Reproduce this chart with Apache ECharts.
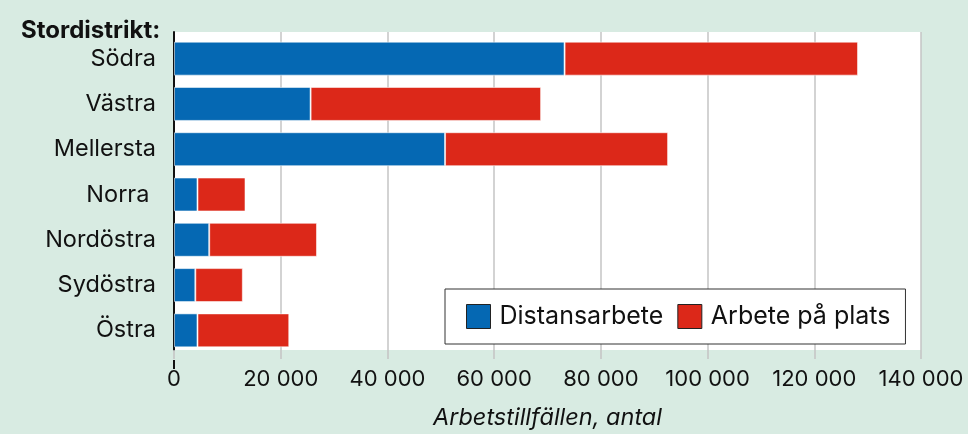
<!DOCTYPE html>
<html><head><meta charset="utf-8">
<script src="https://cdn.jsdelivr.net/npm/echarts@6/dist/echarts.min.js"></script>
<style>html,body{margin:0;padding:0;background:#d8ebe2}#c{width:968px;height:434px}</style>
</head><body><div id="c"></div>
<script>
var categories = ['Södra', 'Västra', 'Mellersta', 'Norra ', 'Nordöstra', 'Sydöstra', 'Östra'];
var distansarbete = [73200, 25600, 50800, 4400, 6600, 4000, 4400];
var arbetePaPlats = [55000, 43200, 41800, 9000, 20200, 8900, 17200];
var xTicks = [0, 20000, 40000, 60000, 80000, 100000, 120000, 140000];
var seriesNames = ['Distansarbete', 'Arbete på plats'];

var FONT = 'Inter, "Noto Sans", sans-serif';
var chart = echarts.init(document.getElementById('c'), null, {renderer: 'canvas'});
function fmt(v){ return String(v).replace(/\B(?=(\d{3})+(?!\d))/g, ' '); }
chart.setOption({
  backgroundColor: '#d8ebe2',
  animation: false,
  textStyle: {fontFamily: FONT},
  title: {text: 'Stordistrikt:', left: 16, top: 14, textStyle: {fontFamily: FONT, fontSize: 24, fontWeight: 'bold', color: '#111'}},
  grid: [
    {left: 174, right: 47, top: 36, bottom: 81},
    {left: 174, right: 47, top: 32, bottom: 74, show: true, backgroundColor: '#ffffff', borderWidth: 0, z: 0}
  ],
  legend: {
    data: seriesNames, left: 445, top: 289, orient: 'horizontal',
    backgroundColor: '#ffffff', borderColor: '#333', borderWidth: 1,
    padding: [15, 15, 15, 21], itemWidth: 24, itemHeight: 24, itemGap: 14, icon: 'rect',
    itemStyle: {borderColor: '#222', borderWidth: 1},
    textStyle: {fontFamily: FONT, fontSize: 25, color: '#111', padding: [0, 0, 0, 4]}
  },
  xAxis: [
    {gridIndex: 0, type: 'value', min: 0, max: 140000, show: false},
    {gridIndex: 1, type: 'value', min: 0, max: 140000, interval: 20000,
      axisLine: {show: false},
      axisTick: {show: true, length: 9, lineStyle: {color: '#c4c4c4', width: 1.5}},
      splitLine: {show: true, lineStyle: {color: '#c4c4c4', width: 1.5}},
      axisLabel: {fontFamily: FONT, fontSize: 22, color: '#111', margin: 18, formatter: function(v){ return xTicks.indexOf(v) >= 0 ? fmt(v) : ''; }},
      name: 'Arbetstillfällen, antal', nameLocation: 'middle', nameGap: 56,
      nameTextStyle: {fontFamily: FONT, fontSize: 23.5, fontStyle: 'italic', color: '#111'}
    }
  ],
  yAxis: [
    {gridIndex: 0, type: 'category', data: categories, inverse: true,
      axisLine: {show: false}, axisTick: {show: false},
      axisLabel: {fontFamily: FONT, fontSize: 23.5, color: '#111', margin: 18, padding: [5, 0, 0, 0]}},
    {gridIndex: 1, type: 'value', min: 0, max: 1, axisLabel: {show: false}, splitLine: {show: false}, axisTick: {show: false},
      axisLine: {show: true, lineStyle: {color: '#111', width: 2}}}
  ],
  graphic: [
    {type: 'line', z: 100, shape: {x1: 174, y1: 360, x2: 174, y2: 369}, style: {stroke: '#111', lineWidth: 2}}
  ],
  series: [
    {name: seriesNames[0], type: 'bar', stack: 's', xAxisIndex: 0, yAxisIndex: 0, data: distansarbete, barCategoryGap: '25%',
      itemStyle: {color: '#0568b3', borderColor: 'rgba(255,255,255,0.55)', borderWidth: 1}},
    {name: seriesNames[1], type: 'bar', stack: 's', xAxisIndex: 0, yAxisIndex: 0, data: arbetePaPlats, barCategoryGap: '25%',
      itemStyle: {color: '#dc2819', borderColor: 'rgba(255,255,255,0.55)', borderWidth: 1}}
  ]
});
</script></body></html>
